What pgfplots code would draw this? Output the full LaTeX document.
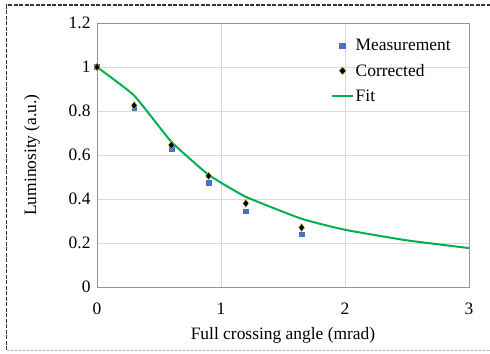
\documentclass[border=0pt]{standalone}
\usepackage{pgfplots}
\pgfplotsset{compat=1.18}
\usepackage{fontspec}
\setmainfont{Liberation Serif}
\definecolor{measblue}{RGB}{68,114,196}
\definecolor{fitgreen}{RGB}{0,176,80}
\definecolor{gridgray}{RGB}{217,217,217}
\definecolor{boxgray}{RGB}{150,150,150}
\definecolor{diaedge}{RGB}{190,200,80}
\begin{document}
\begin{tikzpicture}[x=1bp,y=1bp]
\useasboundingbox (0,0) rectangle (490,353);
\draw[black!80, line width=1.2bp, dash pattern=on 4bp off 1.5bp] (6.5,3) -- (6.5,348) -- (490,348);
\draw[black!25, line width=0.8bp, dash pattern=on 3bp off 1bp] (6.5,3) -- (490,3);
\begin{axis}[
  at={(97bp,66bp)}, anchor=south west,
  width=372bp, height=264bp, scale only axis,
  xmin=0, xmax=3, ymin=0, ymax=1.2,
  xtick={0,1,2,3}, ytick={0,0.2,0.4,0.6,0.8,1,1.2},
  yticklabels={0,0.2,0.4,0.6,0.8,1,1.2},
  xticklabels={0,1,2,3},
  grid=major,
  major grid style={gridgray, line width=0.8bp},
  axis line style={boxgray, line width=0.8bp},
  tick style={draw=none},
  font=\fontsize{17.5}{21}\selectfont,
  /pgf/number format/assume math mode=true,
  xticklabel style={yshift=-12bp},
  yticklabel style={xshift=-3bp},
  xlabel={Full crossing angle (mrad)},
  ylabel={Luminosity (a.u.)},
  xlabel style={yshift=-6bp},
  ylabel style={yshift=22bp},
  legend style={draw=none, fill=none, at={(axis cs:1.88,1.141)}, anchor=north west,
    font=\fontsize{17.5}{21}\selectfont, row sep=8bp, inner sep=1bp},
  legend cell align=left,
  legend image post style={xscale=1.2},
]
\addplot[only marks, mark=square*, mark size=2.4bp, mark options={fill=measblue, draw=measblue}]
  coordinates {(0,1.0) (0.3,0.815) (0.6,0.63) (0.9,0.475) (1.2,0.345) (1.65,0.24)};
\addlegendentry{Measurement}
\addplot[only marks, mark=diamond*, mark size=4bp, mark options={fill=black, draw=diaedge, line width=0.5bp}]
  coordinates {(0,1.0) (0.3,0.825) (0.6,0.645) (0.9,0.505) (1.2,0.38) (1.65,0.27)};
\addlegendentry{Corrected}
\addplot[fitgreen, line width=2bp, smooth, tension=0.25, no marks]
  coordinates {(0,1.0) (0.3,0.87) (0.6,0.66) (0.9,0.51) (1.2,0.41) (1.65,0.31) (2,0.26) (2.5,0.212) (3,0.177)};
\addlegendentry{Fit}
\end{axis}
\end{tikzpicture}
\end{document}
